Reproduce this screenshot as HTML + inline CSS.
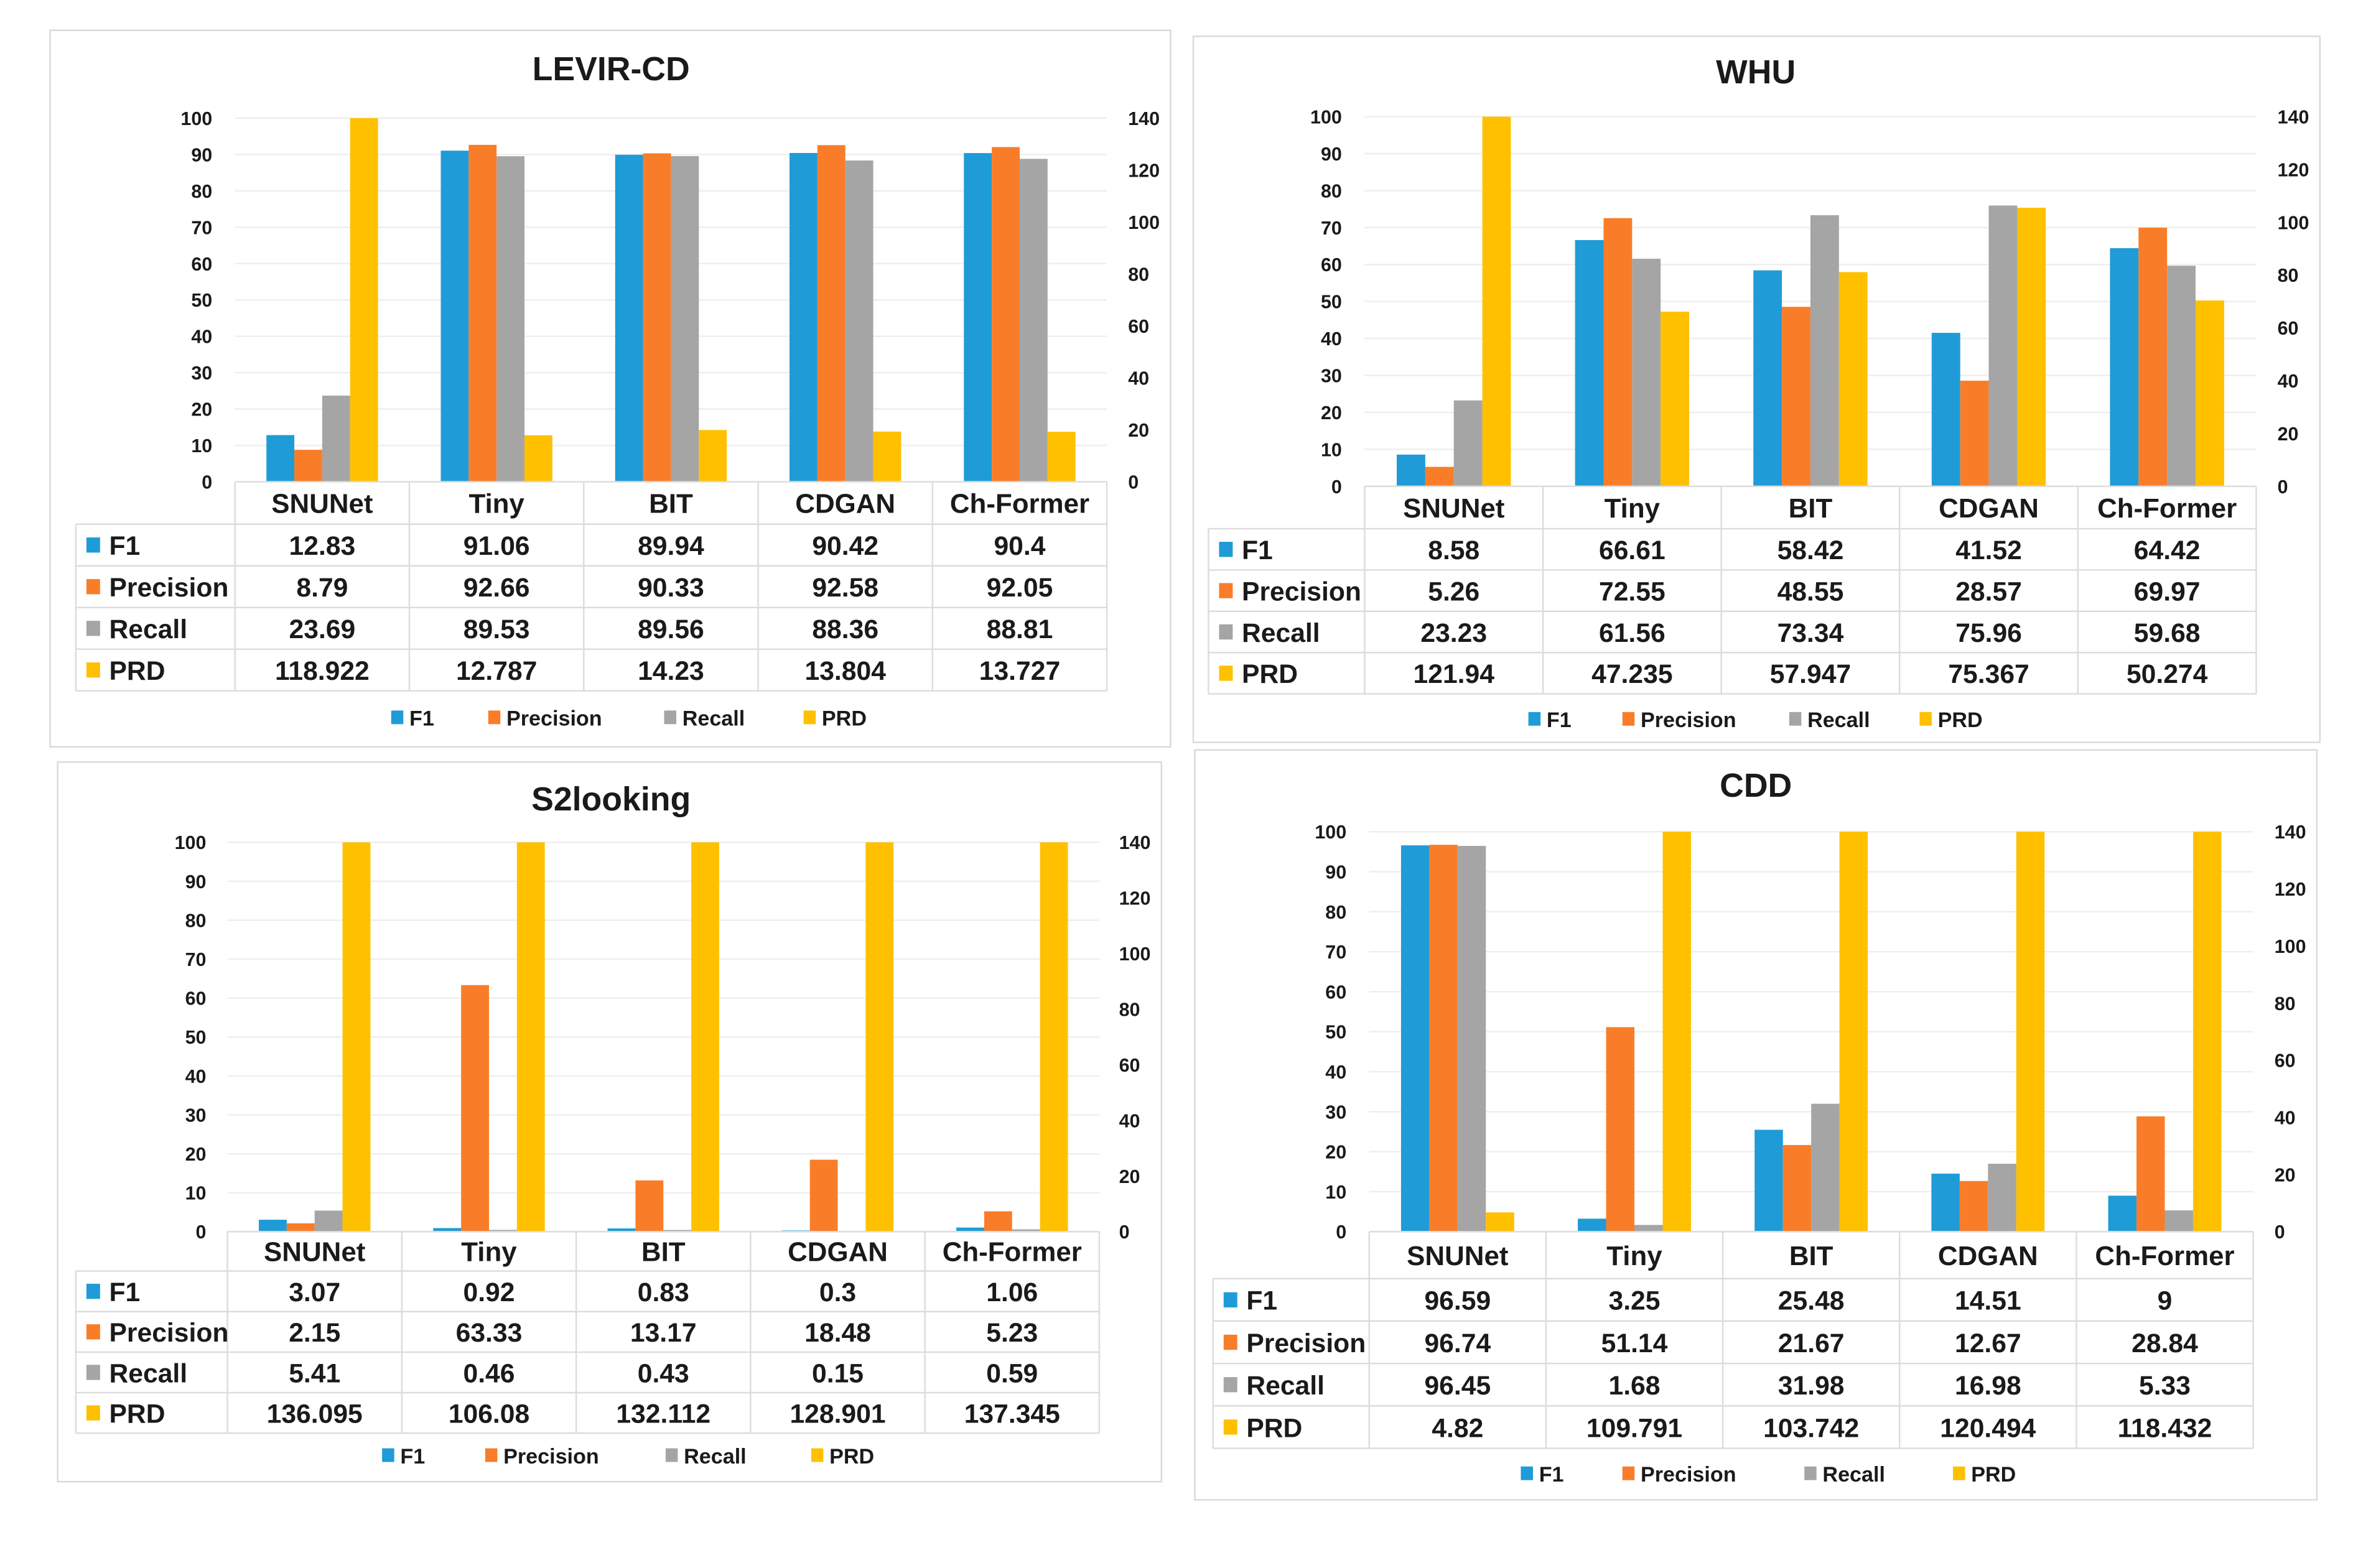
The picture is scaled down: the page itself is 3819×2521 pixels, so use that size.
<!DOCTYPE html>
<html><head><meta charset="utf-8">
<style>
html,body{margin:0;padding:0;background:#fff;}
svg{display:block;}
text{font-family:"Liberation Sans",sans-serif;font-weight:bold;fill:#1a1a1a;}
</style></head>
<body>
<svg id="fig" width="3819" height="2521" viewBox="0 0 1567 1035" preserveAspectRatio="none" xmlns="http://www.w3.org/2000/svg">
<rect x="0" y="0" width="1567" height="1035" fill="#fff"/>
</svg>
<script>
const categories = ["SNUNet","Tiny","BIT","CDGAN","Ch-Former"];
const seriesNames = ["F1","Precision","Recall","PRD"];
const leftTicks = [0,10,20,30,40,50,60,70,80,90,100];
const rightTicks = [0,20,40,60,80,100,120,140];

const levirF1 = [12.83,91.06,89.94,90.42,90.4];
const levirPrecision = [8.79,92.66,90.33,92.58,92.05];
const levirRecall = [23.69,89.53,89.56,88.36,88.81];
const levirPRD = [118.922,12.787,14.23,13.804,13.727];

const whuF1 = [8.58,66.61,58.42,41.52,64.42];
const whuPrecision = [5.26,72.55,48.55,28.57,69.97];
const whuRecall = [23.23,61.56,73.34,75.96,59.68];
const whuPRD = [121.94,47.235,57.947,75.367,50.274];

const s2F1 = [3.07,0.92,0.83,0.3,1.06];
const s2Precision = [2.15,63.33,13.17,18.48,5.23];
const s2Recall = [5.41,0.46,0.43,0.15,0.59];
const s2PRD = [136.095,106.08,132.112,128.901,137.345];

const cddF1 = [96.59,3.25,25.48,14.51,9];
const cddPrecision = [96.74,51.14,21.67,12.67,28.84];
const cddRecall = [96.45,1.68,31.98,16.98,5.33];
const cddPRD = [4.82,109.791,103.742,120.494,118.432];

const colors = ["#1f9bd7","#f97d28","#a5a5a5","#ffc000"];
const NS = "http://www.w3.org/2000/svg";
const svg = document.getElementById("fig");

function el(tag, attrs, parent, txt){
  const e = document.createElementNS(NS, tag);
  for (const k in attrs) e.setAttribute(k, attrs[k]);
  if (txt !== undefined) e.textContent = txt;
  (parent || svg).appendChild(e);
  return e;
}

function drawPanel(L, title, series, slug){
  const g = el("g", {});
  
  
  const box = el("rect", {x:L.bx, y:L.by, width:L.bw, height:L.bh, fill:"#fff", stroke:"#d9d9d9", "stroke-width":1}, g);
  
  
  const t = el("text", {x:L.tx, y:L.ty, "text-anchor":"middle", "font-size":22}, g, title);
  
  

  const yScale = v => L.y0 - (Math.min(v,100)/100) * (L.y0 - L.y100);
  const yRight = v => L.y0 - (v/140) * (L.y0 - L.y100);
  const colW = (L.x1 - L.x0) / categories.length;
  const xCol = i => L.x0 + i*colW;

  leftTicks.forEach(v => {
    if (v > 0) {
      const gl = el("line", {x1:L.x0, x2:L.x1, y1:yScale(v), y2:yScale(v), stroke:"#eeeeee", "stroke-width":1}, g);
      
      
    }
    const tl = el("text", {x:L.lx, y:yScale(v)+4.5, "text-anchor":"end", "font-size":12.5}, g, String(v));
    
    
  });
  rightTicks.forEach(v => {
    const tr = el("text", {x:L.rx, y:yRight(v)+4.5, "text-anchor":"start", "font-size":12.5}, g, String(v));
    
    
  });

  const bw = colW * 0.16;
  categories.forEach((c, i) => {
    const cx = xCol(i) + colW/2;
    series.forEach((s, j) => {
      const x = cx - 2*bw + j*bw;
      const y = yScale(s[i]);
      const b = el("rect", {x:x, y:y, width:bw, height:L.y0 - y, fill:colors[j]}, g);
      
      
    });
  });

  const rowH = (L.tb - L.th) / 4;
  const lineC = "#dcdcdc";
  for (let i = 0; i <= categories.length; i++) {
    el("line", {x1:xCol(i), x2:xCol(i), y1:L.y0, y2:L.tb, stroke:lineC, "stroke-width":1}, g);
  }
  el("line", {x1:L.x0, x2:L.x1, y1:L.y0, y2:L.y0, stroke:lineC, "stroke-width":1}, g);
  el("line", {x1:L.tl, x2:L.tl, y1:L.th, y2:L.tb, stroke:lineC, "stroke-width":1}, g);
  for (let r = 0; r <= 4; r++) {
    const yy = L.th + r*rowH;
    el("line", {x1:L.tl, x2:L.x1, y1:yy, y2:yy, stroke:lineC, "stroke-width":1}, g);
  }
  categories.forEach((c, i) => {
    const h = el("text", {x:xCol(i)+colW/2, y:(L.y0+L.th)/2+6.5, "text-anchor":"middle", "font-size":18}, g, c);
    
    
  });
  series.forEach((s, j) => {
    const cy = L.th + j*rowH + rowH/2;
    const sq = el("rect", {x:L.tl+7, y:cy-5, width:9, height:10, fill:colors[j]}, g);
    
    
    const rl = el("text", {x:L.tl+22, y:cy+6.5, "text-anchor":"start", "font-size":17.5}, g, seriesNames[j]);
    
    
    s.forEach((v, i) => {
      const cv = el("text", {x:xCol(i)+colW/2, y:cy+6.5, "text-anchor":"middle", "font-size":17.5}, g, String(v));
      
      
    });
  });

  seriesNames.forEach((n, j) => {
    const lx = L.leg[j];
    const ls = el("rect", {x:lx, y:L.ly-5, width:8, height:9, fill:colors[j]}, g);
    
    
    const lt = el("text", {x:lx+12, y:L.ly+5, "font-size":14}, g, n);
    
    
  });
}

drawPanel({bx:33,by:20,bw:739,bh:473, tx:403,ty:53, y100:78,y0:318, x0:155,x1:730, lx:140,rx:744,
  th:346,tb:456,tl:50, ly:474, leg:[258,322,438,530]},
  "LEVIR-CD", [levirF1,levirPrecision,levirRecall,levirPRD], "levir-cd");

drawPanel({bx:787,by:24,bw:743,bh:466, tx:1158,ty:55, y100:77,y0:321, x0:900,x1:1488, lx:885,rx:1502,
  th:349,tb:458,tl:797, ly:475, leg:[1008,1070,1180,1266]},
  "WHU", [whuF1,whuPrecision,whuRecall,whuPRD], "whu");

drawPanel({bx:38,by:503,bw:728,bh:475, tx:403,ty:535, y100:556,y0:813, x0:150,x1:725, lx:136,rx:738,
  th:839,tb:946,tl:50, ly:961, leg:[252,320,439,535]},
  "S2looking", [s2F1,s2Precision,s2Recall,s2PRD], "s2looking");

drawPanel({bx:788,by:495,bw:740,bh:495, tx:1158,ty:526, y100:549,y0:813, x0:903,x1:1486, lx:888,rx:1500,
  th:844,tb:956,tl:800, ly:973, leg:[1003,1070,1190,1288]},
  "CDD", [cddF1,cddPrecision,cddRecall,cddPRD], "cdd");
</script>
</body></html>
